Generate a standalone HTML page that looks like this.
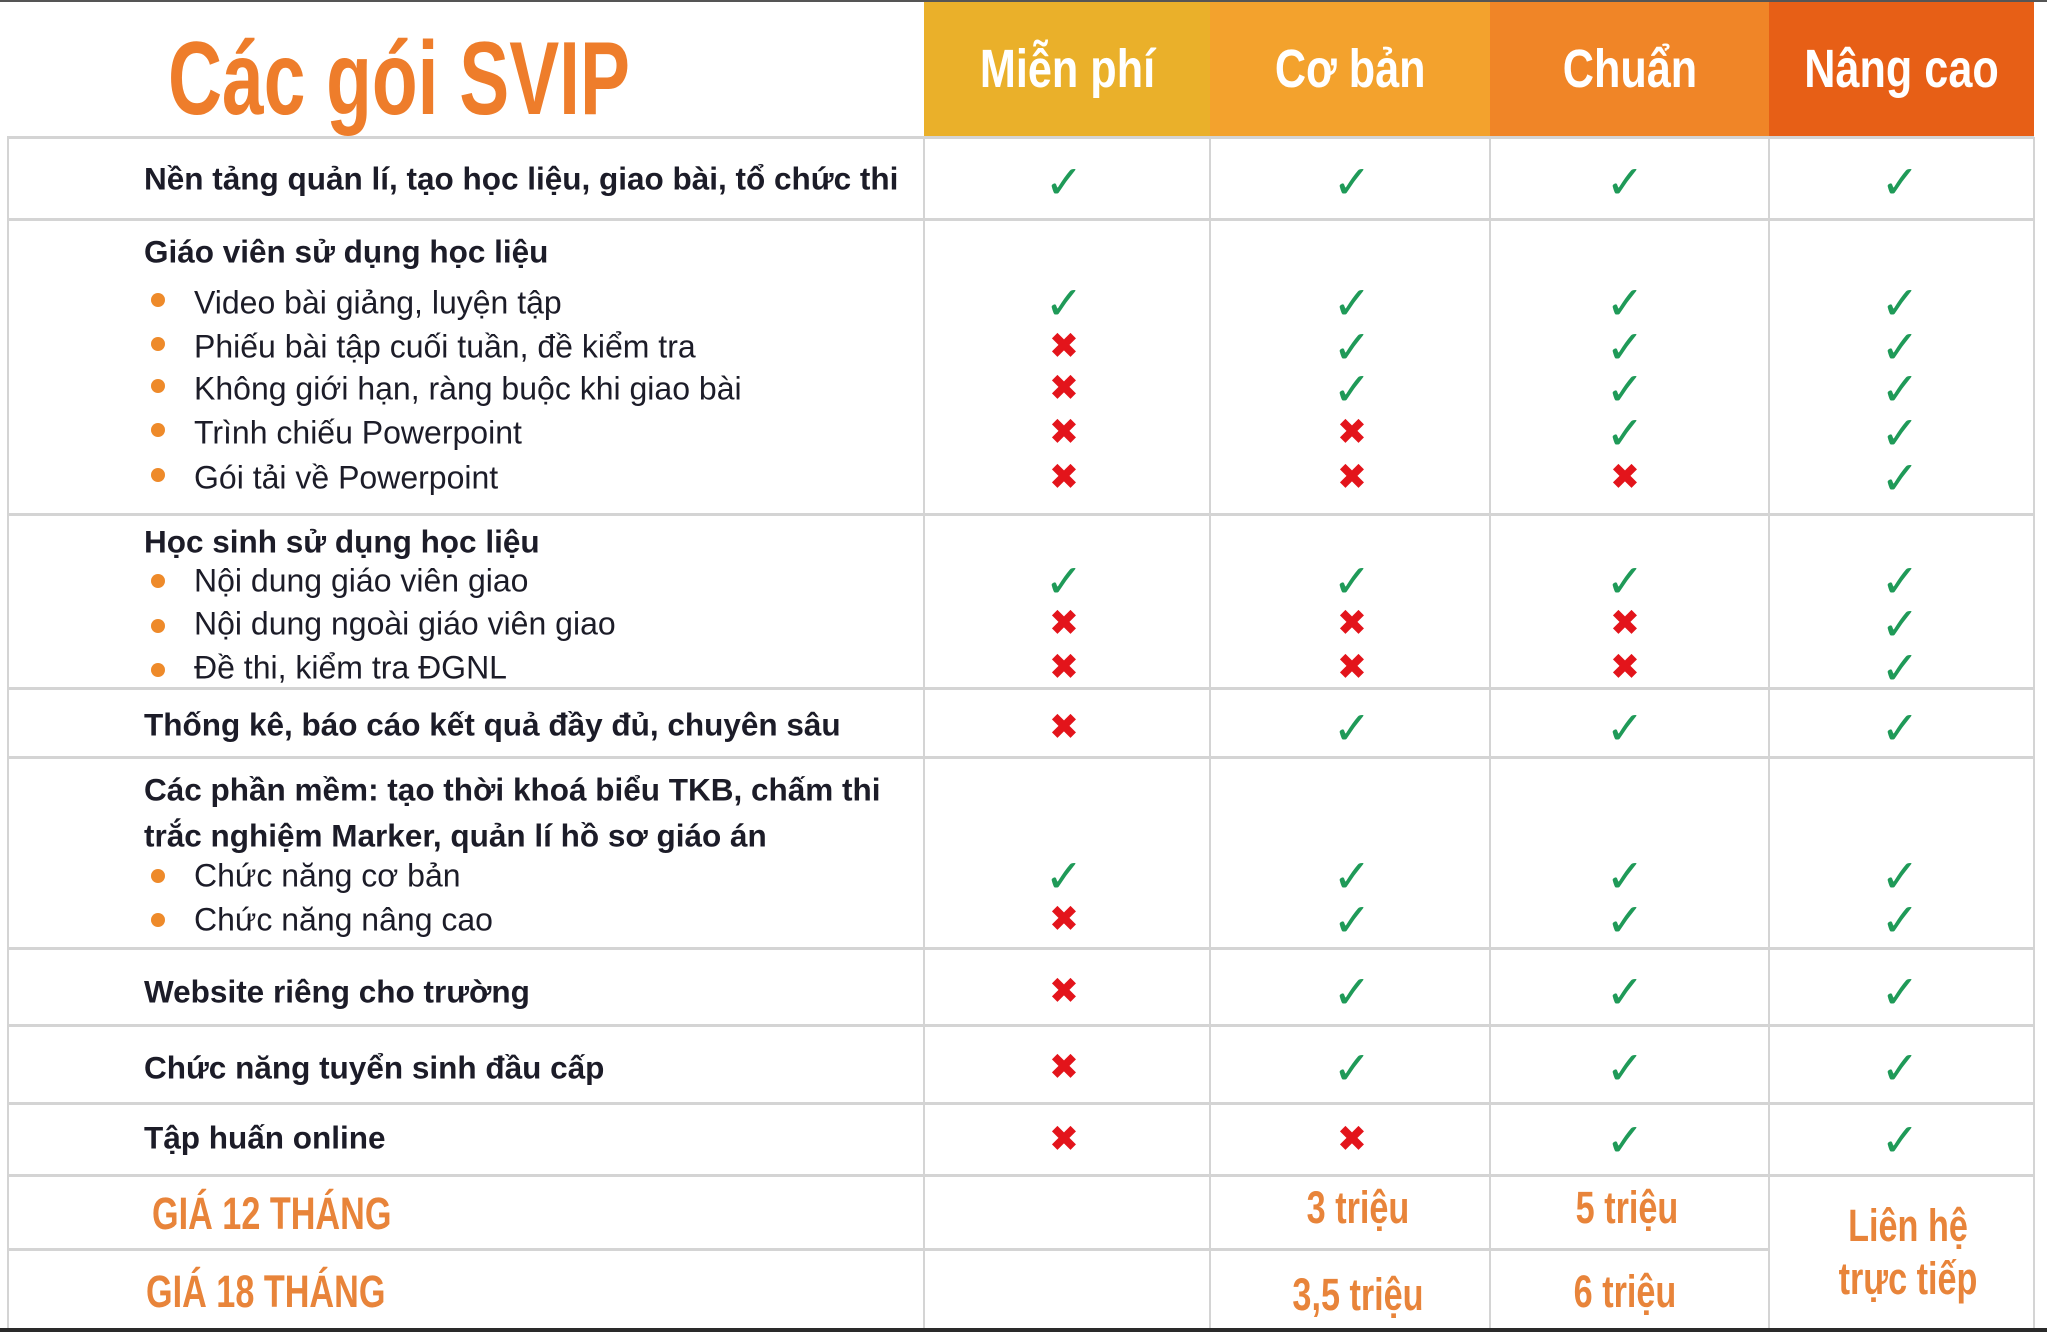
<!DOCTYPE html>
<html><head><meta charset="utf-8"><style>
*{margin:0;padding:0;box-sizing:border-box}
body{width:2047px;height:1332px;background:#fff;position:relative;overflow:hidden;font-family:"Liberation Sans","DejaVu Sans",sans-serif;color:#1c1c28}
.a{position:absolute}
.hl{position:absolute;left:7px;width:2027px;height:3px;background:#d4d4d4}
.vl{position:absolute;top:137px;width:2px;height:1192px;background:#d4d4d4}
.h{position:absolute;top:0;height:137px;color:#fff;font-weight:bold;font-size:54px;display:flex;align-items:center;justify-content:center}
.h span{display:inline-block;transform:scaleX(0.8)}
.t{position:absolute;left:144px;transform:translateY(-50%);font-size:31.5px;font-weight:bold;white-space:nowrap}
.i{position:absolute;left:194px;transform:translateY(-50%);font-size:32px;white-space:nowrap}
.d{position:absolute;left:151px;width:14px;height:14px;border-radius:50%;background:#ee8a2a;transform:translateY(-50%)}
.m{position:absolute;transform:translate(-50%,-50%);font-family:"DejaVu Sans",sans-serif;font-weight:bold;line-height:1}
.ok{color:#1f9a58;font-size:46px}
.no{color:#e3141b;font-size:36px}
.p{position:absolute;transform:translate(-50%,-50%) scaleX(0.76);color:#e8843a;font-weight:bold;font-size:45px;white-space:nowrap}
.pl{position:absolute;transform:translateY(-50%) scaleX(0.76);transform-origin:left center;color:#e8843a;font-weight:bold;font-size:45px;white-space:nowrap}
</style></head><body>
<div class="a" style="left:168px;top:20px;font-size:104px;font-weight:bold;color:#ee7d2b;transform:scaleX(0.72);transform-origin:left top;white-space:nowrap">Các gói SVIP</div>
<div class="h" style="left:924px;width:286px;background:#eab02a"><span>Miễn phí</span></div>
<div class="h" style="left:1210px;width:280px;background:#f3a22d"><span>Cơ bản</span></div>
<div class="h" style="left:1490px;width:279px;background:#f08527"><span>Chuẩn</span></div>
<div class="h" style="left:1769px;width:265px;background:#e75f16"><span>Nâng cao</span></div>

<div class="hl" style="top:136px"></div>
<div class="hl" style="top:218px"></div>
<div class="hl" style="top:513px"></div>
<div class="hl" style="top:687px"></div>
<div class="hl" style="top:756px"></div>
<div class="hl" style="top:947px"></div>
<div class="hl" style="top:1024px"></div>
<div class="hl" style="top:1102px"></div>
<div class="hl" style="top:1174px"></div>
<div class="hl" style="top:1248px;width:1762px"></div>
<div class="vl" style="left:7px"></div>
<div class="vl" style="left:923px"></div>
<div class="vl" style="left:1209px"></div>
<div class="vl" style="left:1489px"></div>
<div class="vl" style="left:1768px"></div>
<div class="vl" style="left:2033px"></div>
<div class="a" style="left:0;top:1328px;width:2047px;height:4px;background:#2a2a2a"></div>
<div class="a" style="left:0;top:0;width:2047px;height:2px;background:#555"></div>

<div class="t" style="top:179px">Nền tảng quản lí, tạo học liệu, giao bài, tổ chức thi</div>
<div class="t" style="top:252px">Giáo viên sử dụng học liệu</div>
<div class="d" style="top:300px"></div><div class="i" style="top:303px">Video bài giảng, luyện tập</div>
<div class="d" style="top:344px"></div><div class="i" style="top:347px">Phiếu bài tập cuối tuần, đề kiểm tra</div>
<div class="d" style="top:386px"></div><div class="i" style="top:389px">Không giới hạn, ràng buộc khi giao bài</div>
<div class="d" style="top:430px"></div><div class="i" style="top:433px">Trình chiếu Powerpoint</div>
<div class="d" style="top:475px"></div><div class="i" style="top:478px">Gói tải về Powerpoint</div>
<div class="t" style="top:542px">Học sinh sử dụng học liệu</div>
<div class="d" style="top:581px"></div><div class="i" style="top:581px">Nội dung giáo viên giao</div>
<div class="d" style="top:626px"></div><div class="i" style="top:624px">Nội dung ngoài giáo viên giao</div>
<div class="d" style="top:670px"></div><div class="i" style="top:668px">Đề thi, kiểm tra ĐGNL</div>
<div class="t" style="top:725px">Thống kê, báo cáo kết quả đầy đủ, chuyên sâu</div>
<div class="t" style="top:790px">Các phần mềm: tạo thời khoá biểu TKB, chấm thi</div>
<div class="t" style="top:836px">trắc nghiệm Marker, quản lí hồ sơ giáo án</div>
<div class="d" style="top:876px"></div><div class="i" style="top:876px">Chức năng cơ bản</div>
<div class="d" style="top:920px"></div><div class="i" style="top:920px">Chức năng nâng cao</div>
<div class="t" style="top:992px">Website riêng cho trường</div>
<div class="t" style="top:1068px">Chức năng tuyển sinh đầu cấp</div>
<div class="t" style="top:1138px">Tập huấn online</div>

<div id="marks"></div>
<script>
var rows=[[182,"1111"],[303,"1111"],[347,"0111"],[389,"0111"],[433,"0011"],[478,"0001"],[581,"1111"],[624,"0001"],[668,"0001"],[728,"0111"],[876,"1111"],[920,"0111"],[992,"0111"],[1068,"0111"],[1140,"0011"]];
var xs=[1064,1352,1625,1900],h="";
rows.forEach(function(r){for(var k=0;k<4;k++){var ok=r[1][k]=="1";h+='<div class="m '+(ok?'ok':'no')+'" style="left:'+xs[k]+'px;top:'+r[0]+'px">'+(ok?'✓':'✖')+'</div>';}});
document.getElementById('marks').innerHTML=h;
</script>

<div class="pl" style="left:152px;top:1214px">GIÁ 12 THÁNG</div>
<div class="pl" style="left:146px;top:1292px">GIÁ 18 THÁNG</div>
<div class="p" style="left:1358px;top:1208px">3 triệu</div>
<div class="p" style="left:1627px;top:1208px">5 triệu</div>
<div class="p" style="left:1358px;top:1295px">3,5 triệu</div>
<div class="p" style="left:1625px;top:1292px">6 triệu</div>
<div class="p" style="left:1908px;top:1226px">Liên hệ</div>
<div class="p" style="left:1908px;top:1279px">trực tiếp</div>
</body></html>
